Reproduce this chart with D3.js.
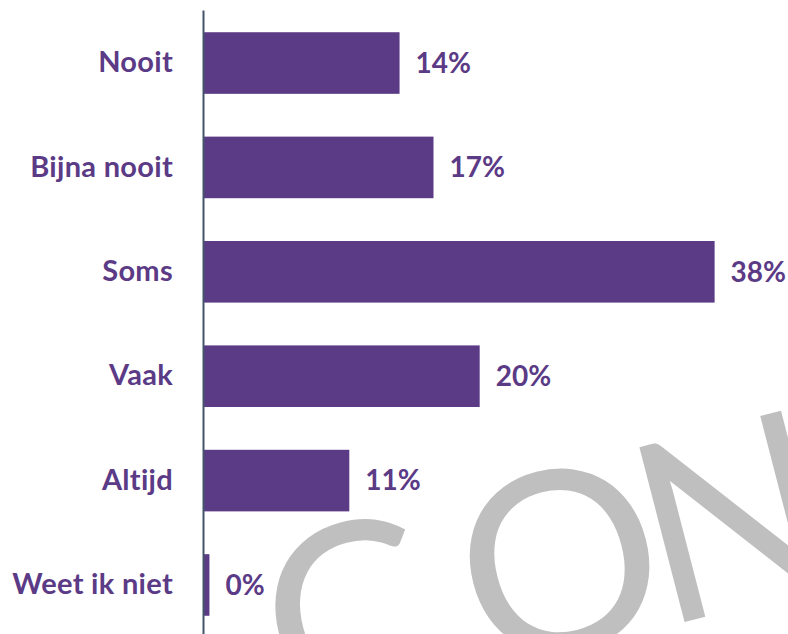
<!DOCTYPE html>
<html>
<head>
<meta charset="utf-8">
<script src="https://cdn.jsdelivr.net/npm/d3@7"></script>
<style>
  body { margin: 0; background: #fff; }
  svg { display: block; }
</style>
</head>
<body>
<div id="chart"></div>
<script>
  // answer categories, top to bottom
  var categories = ["Nooit", "Bijna nooit", "Soms", "Vaak", "Altijd", "Weet ik niet"];
  // share of respondents in percent
  var values = [14.4, 16.9, 37.6, 20.3, 10.7, 0.4];

  var width = 788, height = 634;
  var purple = "#5b3a86";

  var svg = d3.select("#chart")
    .append("svg")
    .attr("width", width)
    .attr("height", height);

  // grey watermark behind the chart
  var mark = svg.append("text")
    .attr("transform", "translate(290,724) rotate(-14.5)")
    .attr("font-family", "Lato, 'Open Sans', sans-serif")
    .attr("font-weight", 400)
    .attr("font-size", 252)
    .attr("fill", "#bfbfbf");
  mark.append("tspan").text("C");
  mark.append("tspan").attr("dx", 36).text("O");
  mark.append("tspan").attr("dx", -18).text("N");

  var x = d3.scaleLinear()
    .domain([0, 40])
    .range([204, 204 + 40 * 13.58]);

  var y = d3.scaleBand()
    .domain(categories)
    .range([10, 638])
    .paddingInner(0.41)
    .paddingOuter(0.213);

  svg.selectAll(".bar")
    .data(values)
    .enter().append("rect")
    .attr("class", "bar")
    .attr("x", x(0))
    .attr("y", function(d, i) { return y(categories[i]); })
    .attr("width", function(d) { return x(d) - x(0); })
    .attr("height", y.bandwidth())
    .attr("fill", purple);

  // category axis
  var axis = svg.append("g")
    .attr("transform", "translate(203,0)")
    .call(d3.axisLeft(y).tickSize(0).tickPadding(30));

  axis.select(".domain")
    .attr("stroke", "#44546a")
    .attr("stroke-width", 2);

  axis.selectAll("text")
    .attr("font-family", "Lato, sans-serif")
    .attr("font-weight", 700)
    .attr("font-size", 29)
    .attr("letter-spacing", 0.3)
    .attr("fill", purple);

  // value labels
  svg.selectAll(".val")
    .data(values)
    .enter().append("text")
    .attr("class", "val")
    .attr("x", function(d) { return x(d) + 16; })
    .attr("y", function(d, i) { return y(categories[i]) + y.bandwidth() / 2; })
    .attr("dy", "0.35em")
    .attr("font-family", "Lato, sans-serif")
    .attr("font-weight", 700)
    .attr("font-size", 28)
    .attr("fill", purple)
    .text(function(d) { return d3.format(".0f")(d) + "%"; });
</script>
</body>
</html>
